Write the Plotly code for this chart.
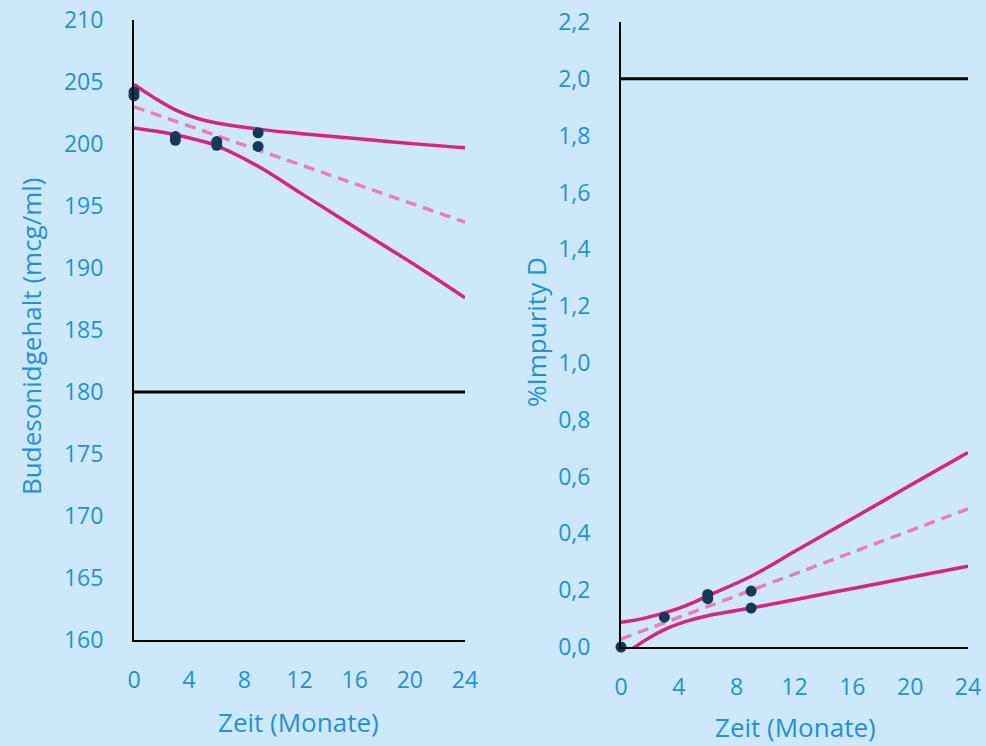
import plotly.graph_objects as go

# ---------------- data ----------------
fit_t = [0, 24]
spec_t = [0, 24]

# Left: Budesonidgehalt
bud_pts_t = [0, 0, 3, 3, 6, 6, 9, 9]
bud_pts_y = [204.2, 203.9, 200.6, 200.3, 200.2, 199.9, 200.9, 199.8]
bud_ci_t = [0, 1.5, 3, 4.5, 6, 9, 12, 15, 18, 21, 24]
bud_upper = [204.8, 203.7, 202.75, 202.1, 201.7, 201.2, 200.85, 200.55, 200.25, 199.95, 199.7]
bud_lower = [201.3, 201.05, 200.75, 200.35, 199.85, 198.2, 196.1, 194.0, 191.9, 189.8, 187.6]
bud_fit = [203.0, 193.7]
bud_spec = [180, 180]

# Right: %Impurity D
imp_pts_t = [0, 3, 6, 6, 9, 9]
imp_pts_y = [0.0, 0.105, 0.185, 0.17, 0.197, 0.137]
imp_ci_t = [0, 1.5, 3, 4.5, 6, 9, 12, 15, 18, 21, 24]
imp_upper = [0.087, 0.1, 0.12, 0.146, 0.18, 0.249, 0.336, 0.423, 0.51, 0.598, 0.685]
imp_lower = [-0.035, 0.018, 0.061, 0.09, 0.110, 0.137, 0.166, 0.196, 0.225, 0.255, 0.284]
imp_fit = [0.028, 0.486]
imp_spec = [2.0, 2.0]

x_ticks = [0, 4, 8, 12, 16, 20, 24]

# ---------------- style ----------------
BG = "rgb(205,233,249)"
TXT = "rgb(30,144,220)"
CI = "rgb(214,36,128)"
FIT = "rgb(238,124,184)"
PT = "rgb(20,57,88)"
FONT = "Open Sans"

fig = go.Figure()

def add_panel(xa, ya, pts_t, pts_y, ci_t, upper, lower, fit, spec):
    fig.add_trace(go.Scatter(x=spec_t, y=spec, mode="lines", xaxis=xa, yaxis=ya,
                             line=dict(color="black", width=3), showlegend=False, hoverinfo="skip"))
    for arr in (upper, lower):
        fig.add_trace(go.Scatter(x=ci_t, y=arr, mode="lines", xaxis=xa, yaxis=ya,
                                 line=dict(color=CI, width=3.5, shape="spline", smoothing=1.0),
                                 showlegend=False))
    fig.add_trace(go.Scatter(x=fit_t, y=fit, mode="lines", xaxis=xa, yaxis=ya,
                             line=dict(color=FIT, width=3.5, dash="11px,7px"), showlegend=False))
    fig.add_trace(go.Scatter(x=pts_t, y=pts_y, mode="markers", xaxis=xa, yaxis=ya,
                             marker=dict(color=PT, size=11), cliponaxis=False, showlegend=False))

add_panel("x", "y", bud_pts_t, bud_pts_y, bud_ci_t, bud_upper, bud_lower, bud_fit, bud_spec)
add_panel("x2", "y2", imp_pts_t, imp_pts_y, imp_ci_t, imp_upper, imp_lower, imp_fit, imp_spec)

axis_common = dict(showgrid=False, zeroline=False, showline=True, linecolor="black", linewidth=2,
                   ticks="", automargin=False,
                   tickfont=dict(color=TXT, size=23, family=FONT), fixedrange=True)

fig.update_layout(
    width=986, height=746, autosize=False,
    margin=dict(l=0, r=0, t=0, b=0, pad=0, autoexpand=False),
    paper_bgcolor=BG, plot_bgcolor=BG,
    separators=",.",
    font=dict(family=FONT, color=TXT),
    xaxis=dict(domain=[134/986, 465/986], range=[0, 24], tickvals=x_ticks, anchor="y",
               ticklabelstandoff=18, **axis_common),
    yaxis=dict(domain=[1-640/746, 1-20/746], range=[160, 210], dtick=5, anchor="x",
               ticklabelstandoff=24, **axis_common),
    xaxis2=dict(domain=[621/986, 968/986], range=[0, 24], tickvals=x_ticks, anchor="y2",
                ticklabelstandoff=18, **axis_common),
    yaxis2=dict(domain=[1-647/746, 1-22/746], range=[0, 2.2], dtick=0.2, tickformat=".1f",
                anchor="x2", ticklabelstandoff=24, **axis_common),
)

ann = dict(xref="paper", yref="paper", showarrow=False,
           font=dict(family=FONT, size=26, color=TXT))
fig.add_annotation(text="Zeit (Monate)", x=298/986, y=1-722/746, xanchor="center", yanchor="middle", **ann)
fig.add_annotation(text="Zeit (Monate)", x=795/986, y=1-727/746, xanchor="center", yanchor="middle", **ann)
fig.add_annotation(text="Budesonidgehalt (mcg/ml)", x=31/986, y=1-336/746, textangle=-90,
                   xanchor="center", yanchor="middle", **ann)
fig.add_annotation(text="%Impurity D", x=536/986, y=1-332/746, textangle=-90,
                   xanchor="center", yanchor="middle", **ann)

fig.write_html(
    "out.html",
    config={"displayModeBar": False},
    post_script="document.body.style.margin='0';document.body.style.padding='0';"
                "document.body.style.background='rgb(205,233,249)';"
                "document.documentElement.style.background='rgb(205,233,249)';",
)
